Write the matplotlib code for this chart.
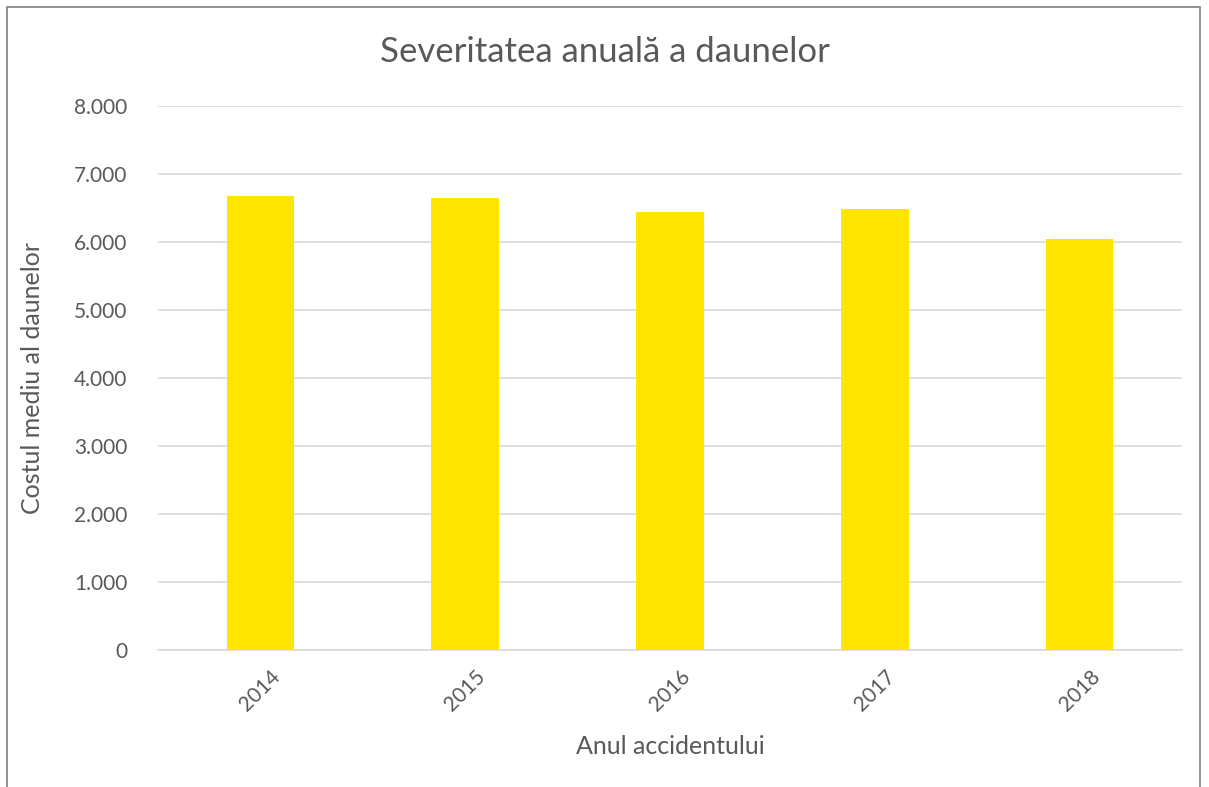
import matplotlib.pyplot as plt
from matplotlib.patches import Rectangle
from matplotlib.ticker import FuncFormatter

# data
years = ["2014", "2015", "2016", "2017", "2018"]
severity = [6673, 6649, 6441, 6486, 6045]

text_color = "#595959"
plt.rcParams["font.family"] = ["Lato", "DejaVu Sans"]

fig = plt.figure(figsize=(12.09, 7.87), dpi=100)
ax = fig.add_axes([158 / 1209, 1 - 650 / 787, 1024 / 1209, 544 / 787])

x = list(range(len(years)))
ax.bar(x, severity, width=0.33, color="#FFE500", zorder=3)

ax.set_xlim(-0.5, 4.5)
ax.set_ylim(0, 8000)
ax.set_yticks(range(0, 8001, 1000))
ax.yaxis.set_major_formatter(FuncFormatter(lambda v, p: f"{int(v):,}".replace(",", ".")))
ax.set_xticks(x)
ax.set_xticklabels(years, rotation=45, ha="center")

ax.grid(axis="y", color="#D9D9D9", linewidth=1.2, zorder=0)
for s in ["top", "right", "left"]:
    ax.spines[s].set_visible(False)
ax.spines["bottom"].set_color("#D9D9D9")
ax.spines["bottom"].set_linewidth(1.2)
ax.tick_params(axis="both", length=0, labelsize=15, colors=text_color)
ax.tick_params(axis="y", pad=22)
ax.tick_params(axis="x", pad=12)

ax.set_xlabel("Anul accidentului", fontsize=18, color=text_color, labelpad=14)
ax.set_ylabel("Costul mediu al daunelor", fontsize=18, color=text_color, labelpad=22)
fig.text(0.5, 1 - 52 / 787, "Severitatea anuală a daunelor", fontsize=25,
         color=text_color, ha="center", va="center")

# chart border
fig.patches.append(Rectangle((7 / 1209, -0.01), 1193 / 1209, 1 - 7 / 787 + 0.01,
                             transform=fig.transFigure, fill=False,
                             edgecolor="#7F7F7F", linewidth=1.2))

fig.savefig("out.png", dpi=100)
